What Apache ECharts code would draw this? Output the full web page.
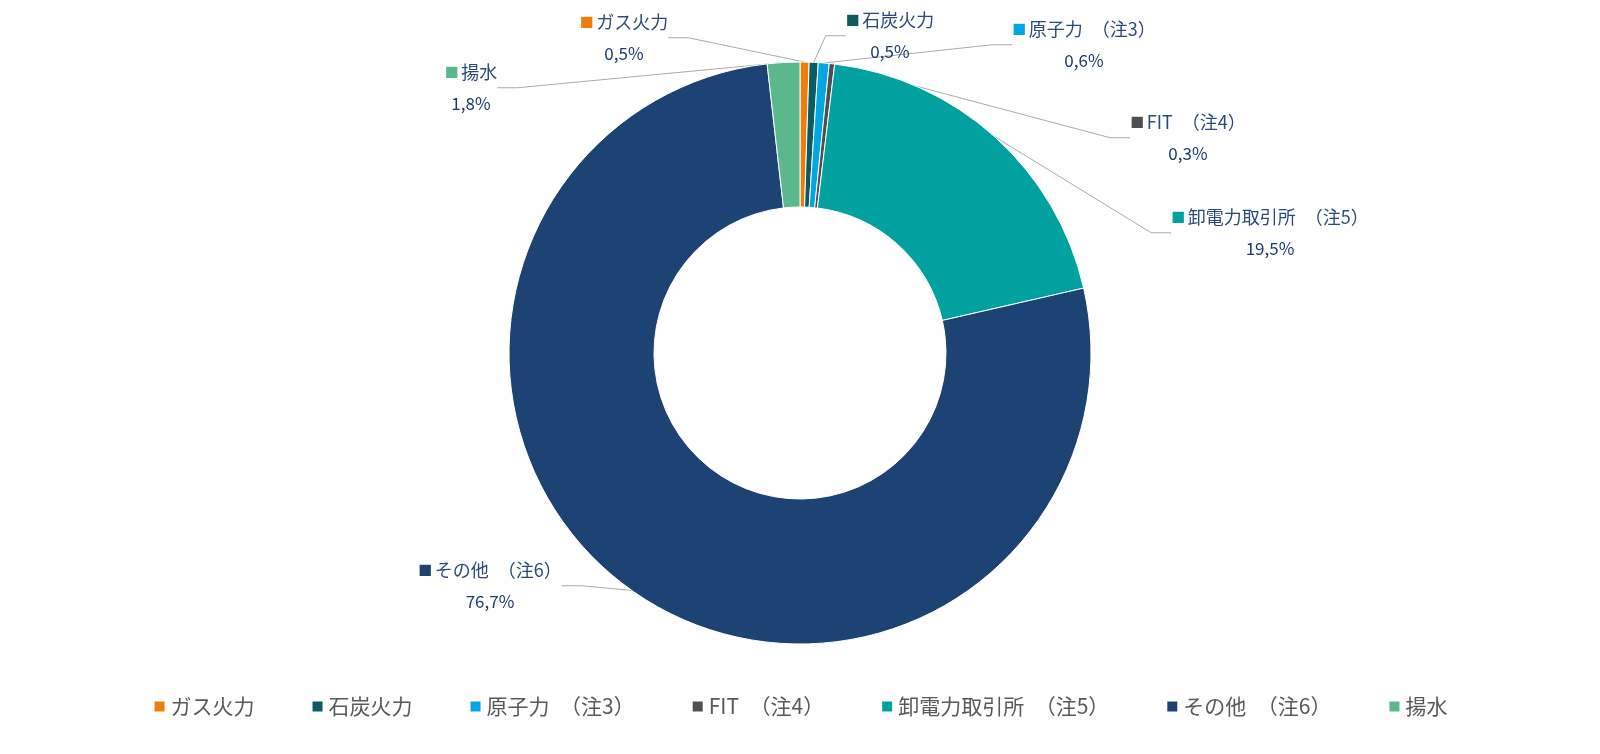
<!DOCTYPE html>
<html><head><meta charset="utf-8">
<script src="https://cdn.jsdelivr.net/npm/echarts@6/dist/echarts.min.js"></script>
<style>html,body{margin:0;padding:0;background:#fff}#c{width:1600px;height:754px}</style>
</head><body><div id="c"></div>
<script>
const categories = ['ガス火力','石炭火力','原子力　（注3）','FIT　（注4）','卸電力取引所　（注5）','その他　（注6）','揚水'];
const values = [0.5,0.5,0.6,0.3,19.5,76.7,1.8];
const colors = ['#EE7D10','#0C5B63','#00A7E1','#4D4F53','#00A19E','#1D4274','#5BB88D'];
const labelPos = [[624,38],[890,36],[1084,45],[1188,138],[1270,233],[490,586],[471,88]];
const chart = echarts.init(document.getElementById('c'));
const font = '"Noto Sans CJK JP", "Noto Sans", sans-serif';
chart.setOption({
  legend:{bottom:32,left:'center',itemWidth:12,itemHeight:12,itemGap:56,icon:'rect',
    textStyle:{fontSize:21,color:'#595959',fontFamily:font},data:categories},
  series:[{type:'pie',center:[800,353],radius:[146,291],startAngle:90,clockwise:true,
    avoidLabelOverlap:false,
    itemStyle:{borderColor:'#fff',borderWidth:1},
    label:{show:true,fontFamily:font,
      formatter:p=>'{m|■} {n|'+p.name+'}\n{v|'+String(p.value).replace('.',',')+'%}',
      rich:{m:{color:'inherit',fontSize:14},n:{fontSize:18,color:'#2b4a7a',lineHeight:32},v:{fontSize:17,color:'#1D3A6E',lineHeight:32}},
      align:'center'},
    labelLine:{show:true,length:20,length2:20,lineStyle:{color:'#aaa',width:1}},
    labelLayout:p=>({x:labelPos[p.dataIndex][0],y:labelPos[p.dataIndex][1],align:'center',verticalAlign:'middle'}),
    data:categories.map((c,i)=>({name:c,value:values[i],itemStyle:{color:colors[i]},
      label:{rich:{m:{color:colors[i],fontSize:14}}}}))
  }]
});
</script></body></html>
